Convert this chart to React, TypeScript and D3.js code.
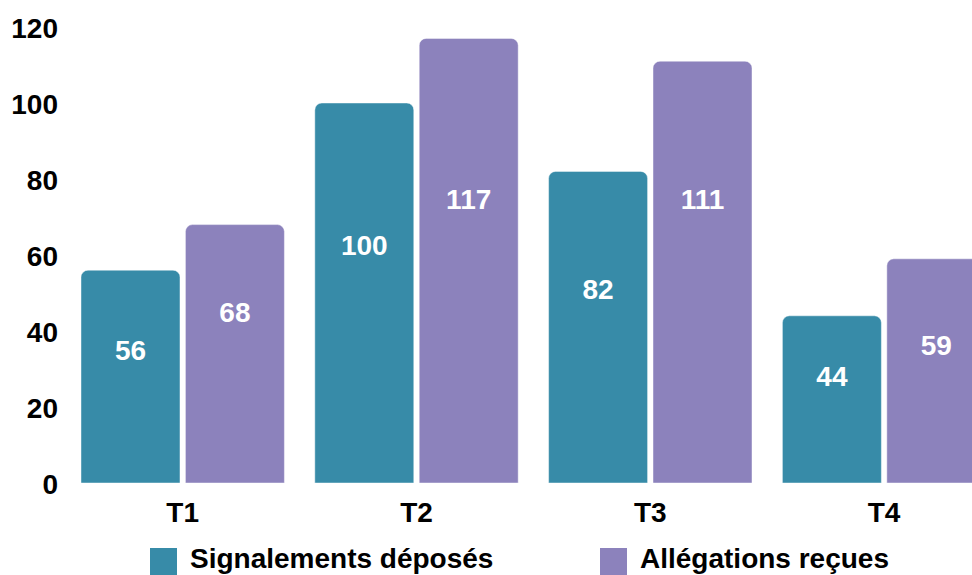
import React from "react";
import * as d3 from "d3";

const categories = ["T1", "T2", "T3", "T4"];
const seriesNames = ["Signalements déposés", "Allégations reçues"];
const signalements = [56, 100, 82, 44];
const allegations = [68, 117, 111, 59];
// value-label anchor heights (in data units), as placed in the reference
const signalementsLabelAt = [35, 62.6, 50.8, 27.9];
const allegationsLabelAt = [45, 74.5, 74.5, 36.1];
const yTicks = [0, 20, 40, 60, 80, 100, 120];
const colors = ["#378BA8", "#8C82BC"];

const W = 972;
const H = 575;
const FONT = "'Liberation Sans', Arial, sans-serif";
const FS = 28;

function topRoundedRect(x: number, y: number, w: number, h: number, r: number) {
  const rr = Math.min(r, h, w / 2);
  const p = d3.path();
  p.moveTo(x, y + h);
  p.lineTo(x, y + rr);
  p.arcTo(x, y, x + rr, y, rr);
  p.lineTo(x + w - rr, y);
  p.arcTo(x + w, y, x + w, y + rr, rr);
  p.lineTo(x + w, y + h);
  p.closePath();
  return p.toString();
}

export default function App() {
  const x0 = d3.scaleBand<string>().domain(categories).range([65.8, 1001]).paddingInner(0.13).paddingOuter(0.065);
  const x1 = d3.scaleBand<string>().domain(seriesNames).range([0, x0.bandwidth()]).paddingInner(0.052);
  const y = d3.scaleLinear().domain([0, 120]).range([483, 27]);
  const series = [signalements, allegations];
  const labelAt = [signalementsLabelAt, allegationsLabelAt];

  return (
    <svg width={W} height={H} style={{ position: "absolute", left: 0, top: 0 }} fontFamily={FONT}>
      <rect width={W} height={H} fill="#fff" />
      {yTicks.map((t) => (
        <text key={t} x={58} y={y(t) + 1} textAnchor="end" dominantBaseline="central" fontSize={FS} fontWeight="bold" fill="#000">
          {t}
        </text>
      ))}
      {categories.map((c, i) => (
        <g key={c}>
          {seriesNames.map((s, j) => {
            const v = series[j][i];
            const bx = (x0(c) as number) + (x1(s) as number);
            const bw = x1.bandwidth();
            const by = y(v);
            const bh = y(0) - by;
            return (
              <g key={s}>
                <path d={topRoundedRect(bx, by, bw, bh, 7)} fill={colors[j]} stroke="#ffffff" strokeOpacity={0.45} strokeWidth={1} />
                <text x={bx + bw / 2} y={y(labelAt[j][i])} textAnchor="middle" dominantBaseline="central" fontSize={FS} fontWeight="bold" fill="#fff">
                  {v}
                </text>
              </g>
            );
          })}
          <text x={(x0(c) as number) + x0.bandwidth() / 2} y={522} textAnchor="middle" fontSize={FS} fontWeight="bold" fill="#000">
            {c}
          </text>
        </g>
      ))}
      {seriesNames.map((s, j) => {
        const lx = j === 0 ? 150 : 600;
        return (
          <g key={s}>
            <rect x={lx} y={548} width={27} height={27} fill={colors[j]} />
            <text x={lx + 40} y={568} fontSize={FS} fontWeight="bold" fill="#000">
              {s}
            </text>
          </g>
        );
      })}
    </svg>
  );
}
